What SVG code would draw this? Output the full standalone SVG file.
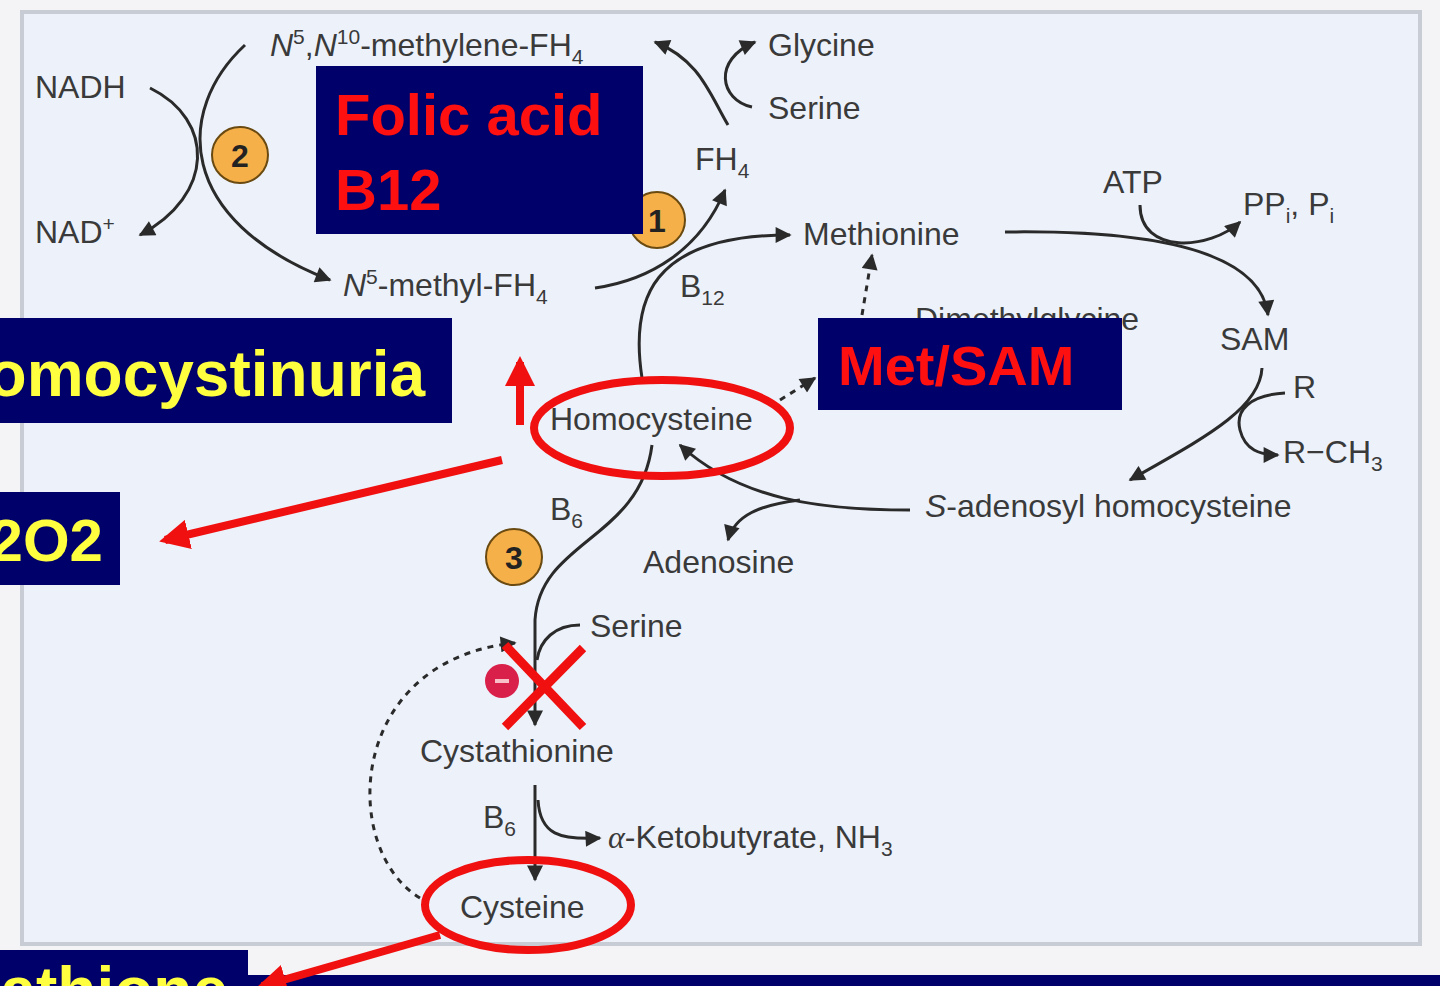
<svg xmlns="http://www.w3.org/2000/svg" width="1440" height="986" viewBox="0 0 1440 986">
<defs>
<marker id="ah" viewBox="0 0 10 10" refX="9" refY="5" markerWidth="18" markerHeight="16" orient="auto" markerUnits="userSpaceOnUse"><path d="M0,0L10,5L0,10z" fill="#2a2a2a"/></marker>
<marker id="ra" viewBox="0 0 10 10" refX="8" refY="5" markerWidth="30" markerHeight="30" orient="auto" markerUnits="userSpaceOnUse"><path d="M0,0L10,5L0,10z" fill="#f01010"/></marker>
</defs>
<style>
.t{font-family:"Liberation Sans",Arial,sans-serif;font-size:32px;fill:#3a3a3a}
.s{font-size:21px}
.c{fill:#f5b04a;stroke:#6a4a10;stroke-width:2}
.n{font-family:"Liberation Sans",Arial,sans-serif;font-size:32px;font-weight:bold;fill:#222;text-anchor:middle}
.ln{fill:none;stroke:#2a2a2a;stroke-width:3;marker-end:url(#ah)}
.ln2{fill:none;stroke:#2a2a2a;stroke-width:3}
.box{fill:#00006a}
.r{font-family:"Liberation Sans",Arial,sans-serif;font-weight:bold;fill:#ff1010}
.y{font-family:"Liberation Sans",Arial,sans-serif;font-weight:bold;fill:#ffff40}
.red{fill:none;stroke:#f01010;stroke-width:8}
</style>
<rect width="1440" height="986" fill="#f4f4f6"/>
<rect x="22" y="12" width="1398" height="932" fill="#edf2fa" stroke="#c8ccd4" stroke-width="4"/>
<rect x="0" y="975" width="1440" height="11" fill="#00006a"/>
<g id="connectors">
<path class="ln" d="M245,45 C175,110 175,220 330,280"/>
<path class="ln" d="M150,88 C215,120 215,195 140,235"/>
<path class="ln" d="M595,288 C650,280 700,250 725,190"/>
<path class="ln" d="M642,378 C630,300 650,235 790,235"/>
<path class="ln" d="M728,125 C710,95 700,60 655,42"/>
<path class="ln" d="M752,107 C720,100 712,60 755,42"/>
<path class="ln" d="M1005,232 C1150,230 1260,250 1268,315"/>
<path class="ln" d="M1140,205 C1140,255 1210,250 1240,222"/>
<path class="ln" d="M1262,368 C1260,410 1200,440 1130,480"/>
<path class="ln" d="M1285,393 C1250,395 1235,410 1240,430 C1245,450 1260,455 1278,455"/>
<path class="ln" d="M910,510 C820,510 740,500 680,445"/>
<path class="ln" d="M800,500 C760,505 735,515 728,540"/>
<path class="ln" d="M652,445 C640,540 540,540 535,620 L535,725"/>
<path class="ln2" d="M580,625 C555,625 540,640 537,660"/>
<path class="ln" d="M535,785 L535,880"/>
<path class="ln" d="M538,800 C540,835 560,840 600,838"/>
<path class="ln" d="M780,400 L815,378" stroke-dasharray="6,6"/>
<path class="ln" d="M862,315 L872,255" stroke-dasharray="6,6"/>
<path class="ln" d="M420,898 C340,850 345,660 515,643" stroke-dasharray="6,6"/>
</g>
<g id="n-methylene"><text class="t" x="270" y="56"><tspan font-style="italic">N</tspan><tspan class="s" dy="-12">5</tspan><tspan dy="12">,</tspan><tspan font-style="italic">N</tspan><tspan class="s" dy="-12">10</tspan><tspan dy="12">-methylene-FH</tspan><tspan class="s" dy="8">4</tspan></text></g>
<g id="nadh"><text class="t" x="35" y="98">NADH</text></g>
<g id="nad"><text class="t" x="35" y="243">NAD<tspan class="s" dy="-12">+</tspan></text></g>
<g id="e2"><circle class="c" cx="240" cy="155" r="28"/><text class="n" x="240" y="167">2</text></g>
<g id="n5methyl"><text class="t" x="343" y="296"><tspan font-style="italic">N</tspan><tspan class="s" dy="-12">5</tspan><tspan dy="12">-methyl-FH</tspan><tspan class="s" dy="8">4</tspan></text></g>
<g id="glycine"><text class="t" x="768" y="56">Glycine</text></g>
<g id="serine1"><text class="t" x="768" y="119">Serine</text></g>
<g id="fh4"><text class="t" x="695" y="170">FH<tspan class="s" dy="8">4</tspan></text></g>
<g id="e1"><circle class="c" cx="657" cy="220" r="28"/><text class="n" x="657" y="232">1</text></g>
<g id="folic"><rect class="box" x="316" y="66" width="327" height="168"/><text class="r" x="335" y="135" font-size="58">Folic acid</text><text class="r" x="335" y="210" font-size="58">B12</text></g>
<g id="methionine"><text class="t" x="803" y="245">Methionine</text></g>
<g id="b12"><text class="t" x="680" y="297">B<tspan class="s" dy="8">12</tspan></text></g>
<g id="atp"><text class="t" x="1103" y="193">ATP</text></g>
<g id="ppi"><text class="t" x="1243" y="215">PP<tspan class="s" dy="8">i</tspan><tspan dy="-8">, P</tspan><tspan class="s" dy="8">i</tspan></text></g>
<g id="dmg"><text class="t" x="915" y="330">Dimethylglycine</text></g>
<g id="metsam"><rect class="box" x="818" y="318" width="304" height="92"/><text class="r" x="838" y="385" font-size="56">Met/SAM</text></g>
<g id="sam"><text class="t" x="1220" y="350">SAM</text></g>
<g id="r"><text class="t" x="1293" y="398">R</text></g>
<g id="rch3"><text class="t" x="1283" y="463">R−CH<tspan class="s" dy="8">3</tspan></text></g>
<g id="sah"><text class="t" x="925" y="517"><tspan font-style="italic">S</tspan>-adenosyl homocysteine</text></g>
<g id="adenosine"><text class="t" x="643" y="573">Adenosine</text></g>
<g id="homocysteine"><text class="t" x="550" y="430">Homocysteine</text><ellipse class="red" cx="662" cy="428" rx="128" ry="48"/></g>
<g id="homocystinuria"><rect class="box" x="0" y="318" width="452" height="105"/><text class="y" x="425" y="396" font-size="64" text-anchor="end">Homocystinuria</text></g>
<g id="h2o2"><rect class="box" x="0" y="492" width="120" height="93"/><text class="y" x="103" y="561" font-size="60" text-anchor="end">H2O2</text></g>
<g id="b6a"><text class="t" x="550" y="520">B<tspan class="s" dy="8">6</tspan></text></g>
<g id="e3"><circle class="c" cx="514" cy="557" r="28"/><text class="n" x="514" y="569">3</text></g>
<g id="serine2"><text class="t" x="590" y="637">Serine</text></g>
<g id="inhib"><circle cx="502" cy="681" r="17" fill="#d8204a"/><rect x="495" y="679" width="14" height="4" fill="#f8c0c8"/></g>
<g id="cross"><path d="M505,645 L583,727 M583,648 L505,727" stroke="#f01010" stroke-width="9"/></g>
<g id="cystathionine"><text class="t" x="420" y="762">Cystathionine</text></g>
<g id="b6b"><text class="t" x="483" y="828">B<tspan class="s" dy="8">6</tspan></text></g>
<g id="keto"><text class="t" x="608" y="848"><tspan font-family="Liberation Serif" font-style="italic">α</tspan>-Ketobutyrate, NH<tspan class="s" dy="8">3</tspan></text></g>
<g id="cysteine"><text class="t" x="460" y="918">Cysteine</text><ellipse class="red" cx="528" cy="905" rx="103" ry="45"/></g>
<g id="glutathione"><rect class="box" x="0" y="950" width="248" height="36"/><text class="y" x="228" y="1012" font-size="64" text-anchor="end">Glutathione</text></g>
<g id="red-arrows">
<path class="red" d="M520,425 L520,362" marker-end="url(#ra)" stroke-width="7"/>
<path class="red" d="M502,460 L165,540" marker-end="url(#ra)" stroke-width="7"/>
<path class="red" d="M440,935 L262,986" marker-end="url(#ra)" stroke-width="7"/>
</g>
</svg>
